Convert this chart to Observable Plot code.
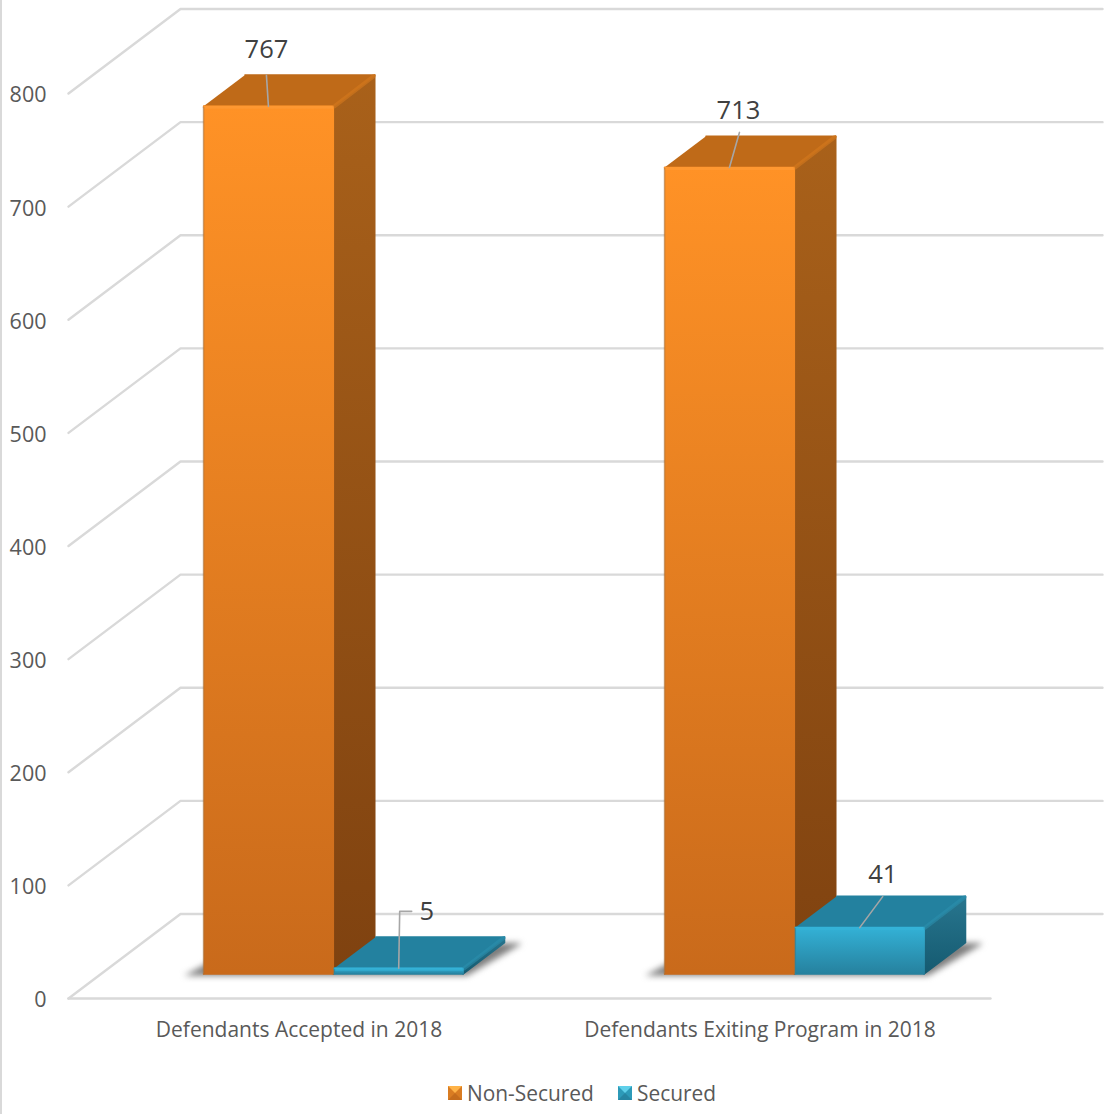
<!DOCTYPE html>
<html><head><meta charset="utf-8">
<script src="https://cdn.jsdelivr.net/npm/d3@7"></script>
<script src="https://cdn.jsdelivr.net/npm/@observablehq/plot@0.6"></script>
<style>
html,body{margin:0;padding:0;background:#fff;overflow:hidden;width:1107px;height:1114px;}
#edge{position:absolute;left:0;top:0;width:2px;height:1114px;background:#d9d9d9;}
#chart svg{display:block;}
#legend{height:44px;position:relative;font:20.9px "Open Sans",sans-serif;color:#595959;}
.item{position:absolute;top:8px;display:flex;align-items:center;gap:5px;line-height:30px;}
.sw{width:0;height:0;border-style:solid;border-width:7px;}
</style></head><body>
<div id="edge"></div><div id="chart"></div><div id="legend"></div>
<script>
// Data
const categories = ["Defendants Accepted in 2018", "Defendants Exiting Program in 2018"];
const seriesNames = ["Non-Secured", "Secured"];
const nonSecured = [767, 713];
const secured = [5, 41];
const ticks = [0, 100, 200, 300, 400, 500, 600, 700, 800];

// Oblique projection: u = category units, v = value, d = depth (0 front of floor, 1 back wall)
const pxU = 1 / 461, pxV = 800 / 905;
const depthU = 112 * pxU, depthV = 84.5 * pxV;
const P = (u, v, d = 0, ox = 0, oy = 0) => ({x: u + d * depthU + ox * pxU, y: v + d * depthV + oy * pxV});
const barW = 0.2815, gapU = 0.2225, dFront = 0.29, dBack = 0.66;

const look = [
  {front: "url(#fa)", side: "url(#sa)", top: "#bf6a18", edge: "#d67a1e", rim: "#ff9c38", left: "#a9713a"},
  {front: "url(#fb)", side: "url(#sb)", top: "#23819f", edge: "#2b8fae", rim: "#35b4d8", left: "#2a8aa8"}
];
const faces = [], edges = [], shadows = [], leaders = [], labels = [];
// label layout offsets in px relative to the bar's top-face anchor
const labelLayout = [
  [{lx: [-2], ly: [31], tx: -2, ty: 56}, {lx: [1, 13], ly: [57, 57], tx: 28, ty: 57}],
  [{lx: [10], ly: [35], tx: 9, ty: 57}, {lx: [23], ly: [31], tx: 23, ty: 53}]
];
categories.forEach((cat, c) => {
  const u0 = c + gapU;
  shadows.push([P(u0, 0, dFront, -18, -1), P(u0 + 2 * barW, 0, dFront, 4, -1), P(u0 + 2 * barW, 0, dBack, 16, -1), P(u0, 0, dBack, 0, -1)]);
  [nonSecured[c], secured[c]].forEach((v, s) => {
    const a = u0 + s * barW + (s ? 1 * pxU : 0), b = u0 + (s + 1) * barW, L = look[s];
    faces.push({pts: [P(b, 0, dFront), P(b, 0, dBack), P(b, v, dBack), P(b, v, dFront)], fill: L.side});
    faces.push({pts: [P(a, v, dFront), P(b, v, dFront), P(b, v, dBack), P(a, v, dBack)], fill: L.top});
    faces.push({pts: [P(a, 0, dFront), P(b, 0, dFront), P(b, v, dFront), P(a, v, dFront)], fill: L.front});
    edges.push({pts: [P(b, v, dFront, 1, 0), P(b, v, dBack, -1, -1)], stroke: L.edge, w: 4});
    edges.push({pts: [P(a, v, dFront, 1, -1), P(b, v, dFront, -1, -1)], stroke: L.rim, w: 3});
    edges.push({pts: [P(a, 0, dFront), P(a, v, dFront, 0, -1)], stroke: L.left, w: 1.5});
    const m = (a + b) / 2, lay = labelLayout[c][s];
    const anchor = P(m, v, dFront);
    leaders.push([anchor, ...lay.lx.map((dx, i) => ({x: anchor.x + dx * pxU, y: anchor.y + lay.ly[i] * pxV}))]);
    labels.push({x: anchor.x + lay.tx * pxU, y: anchor.y + lay.ty * pxV, t: String(v)});
  });
});

const stop = (o, col) => `<stop offset="${o}" stop-color="${col}"/>`;
const grad = (id, a, b) => `<linearGradient id="${id}" x1="0" y1="0" x2="0" y2="1">${stop(0, a)}${stop(1, b)}</linearGradient>`;
const defsMark = () => {
  const g = d3.create("svg:defs");
  g.html(grad("fa", "#ff9226", "#c96a1b") + grad("sa", "#a9611a", "#7f4210") + grad("fb", "#33b1d6", "#26819e") + grad("sb", "#28768f", "#155a70"));
  return g.node();
};

const plot = Plot.plot({
  width: 1107, height: 1070,
  marginLeft: 68, marginRight: 5, marginTop: 0, marginBottom: 72,
  x: {domain: [0, 2 + depthU], range: [68, 1102], axis: null},
  y: {domain: [0, 800], range: [998, 93], axis: null},
  style: {background: "transparent"},
  marks: [
    defsMark,
    // gridlines: side wall slants + back wall
    ...ticks.map(t => Plot.line([P(0, t, 0), P(0, t, 1), P(2, t, 1)], {x: "x", y: "y", stroke: "#d9d9d9", strokeWidth: 2.4, strokeLinejoin: "round"})),
    Plot.line([P(0, 0, 0), P(2, 0, 0)], {x: "x", y: "y", stroke: "#d9d9d9", strokeWidth: 2.4}),
    ...shadows.map(s => Plot.line(s, {x: "x", y: "y", fill: "#6f6f6f", stroke: "#6f6f6f", strokeWidth: 1, imageFilter: "blur(3px)", fillOpacity: 0.9})),
    ...faces.map(f => Plot.line(f.pts, {x: "x", y: "y", fill: f.fill, stroke: f.fill, strokeWidth: 1.5, strokeLinejoin: "round"})),
    ...edges.map(e => Plot.line(e.pts, {x: "x", y: "y", stroke: e.stroke, strokeWidth: e.w, strokeLinecap: "round", strokeOpacity: 0.6})),
    ...leaders.map(l => Plot.line(l, {x: "x", y: "y", stroke: "#a6a6a6", strokeWidth: 1.6})),
    Plot.text(labels, {x: "x", y: "y", text: "t", fontSize: 25.5, fill: "#404040", fontFamily: "Open Sans", stroke: "none"}),
    Plot.axisY(ticks, {anchor: "left", tickSize: 0, tickPadding: 22, dy: 2, fontSize: 21.5, fontFamily: "Open Sans", fill: "#595959", label: null}),
    Plot.axisX([0.5, 1.5], {anchor: "bottom", y: 0, tickSize: 0, tickPadding: 24, fontSize: 21, fontFamily: "Open Sans", fill: "#595959", label: null, tickFormat: d => categories[Math.floor(d)]})
  ]
});
document.getElementById("chart").appendChild(plot);

const legend = document.getElementById("legend");
const swatchBorders = [
  "border-color:#ffb347 #d97c22 #c56c1c #d97c22",
  "border-color:#5fd0ea #2d9ab8 #2685a2 #2d9ab8"
];
const lefts = [448, 618];
seriesNames.forEach((n, i) => {
  const it = document.createElement("div");
  it.className = "item";
  it.style.left = lefts[i] + "px";
  it.innerHTML = `<span class="sw" style="${swatchBorders[i]}"></span><span>${n}</span>`;
  legend.appendChild(it);
});
</script></body></html>
